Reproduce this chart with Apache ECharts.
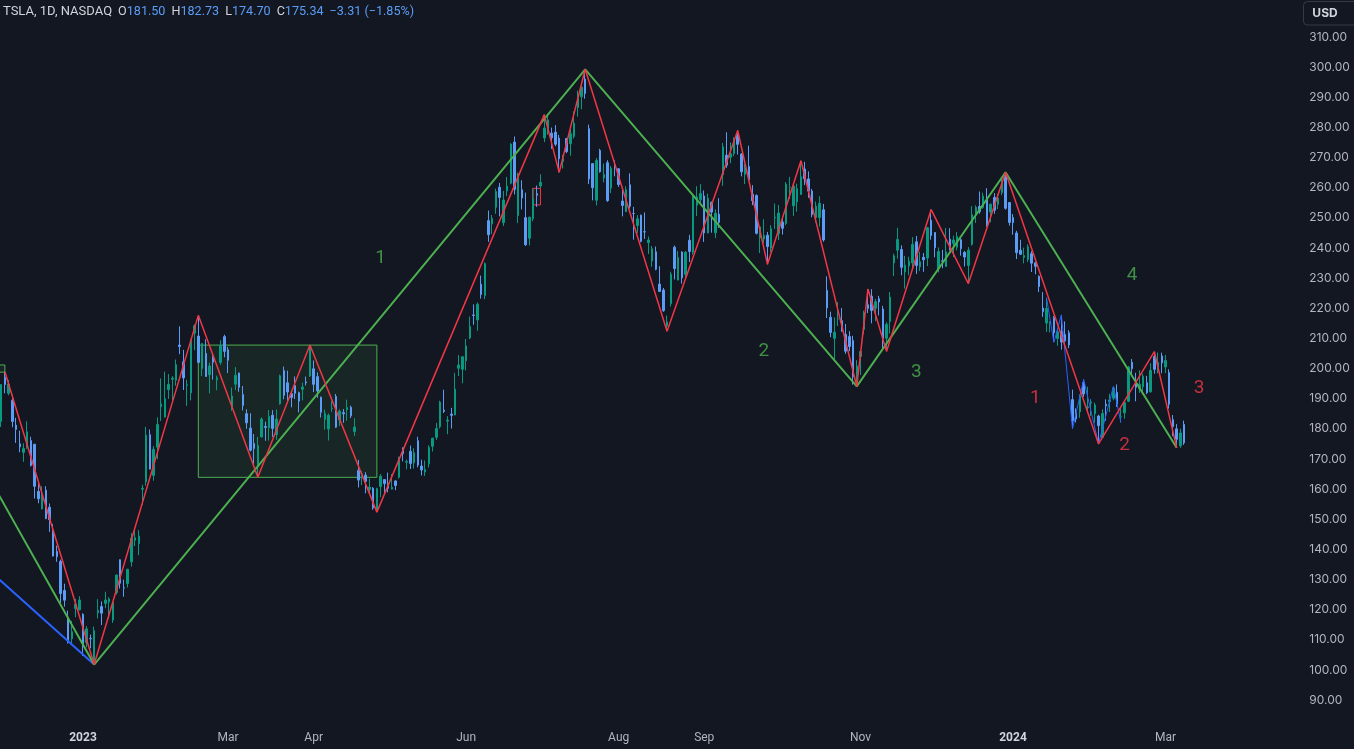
<!DOCTYPE html>
<html>
<head>
<meta charset="utf-8">
<script src="https://cdn.jsdelivr.net/npm/echarts@6/dist/echarts.min.js"></script>
<style>
html,body{margin:0;padding:0;background:#131722;}
#chart{width:1354px;height:749px;}
</style>
</head>
<body>
<div id="chart"></div>
<script>
// ---- daily OHLC rows: [date, open, high, low, close] ----
const nov2022 = [['2022-11-29',184.99,186.38,178.75,180.83],['2022-11-30',182.43,194.76,180.63,194.70]];
const dec2022 = [
['2022-12-01',197.08,198.92,191.80,194.70],['2022-12-02',191.78,196.25,191.11,194.86],
['2022-12-05',189.44,191.27,180.55,182.45],['2022-12-06',181.22,183.65,175.33,179.82],
['2022-12-07',175.03,179.38,172.22,174.04],['2022-12-08',172.20,175.20,169.06,173.44],
['2022-12-09',173.84,182.50,173.36,179.05],['2022-12-12',176.10,177.37,167.52,167.82],
['2022-12-13',174.87,175.05,156.91,160.95],['2022-12-14',159.25,161.62,155.31,156.80],
['2022-12-15',153.44,160.93,153.28,157.67],['2022-12-16',159.64,160.99,150.04,150.23],
['2022-12-19',154.00,155.25,145.82,149.87],['2022-12-20',146.05,148.47,137.66,137.80],
['2022-12-21',139.34,141.26,135.89,137.57],['2022-12-22',136.00,136.63,122.26,125.35],
['2022-12-23',126.37,128.62,121.02,123.15],['2022-12-27',117.50,119.67,108.76,109.10],
['2022-12-28',110.35,116.27,108.24,112.71],['2022-12-29',120.39,123.57,117.50,121.82],
['2022-12-30',119.95,124.48,119.75,123.18]];
const jan2023 = [
['2023-01-03',118.47,118.80,104.64,108.10],['2023-01-04',109.11,114.59,107.52,113.64],
['2023-01-05',110.51,111.75,107.16,110.34],['2023-01-06',103.00,114.39,101.81,113.06],
['2023-01-09',118.96,123.52,117.11,119.77],['2023-01-10',121.07,122.76,114.92,118.85],
['2023-01-11',122.09,125.95,120.51,123.22],['2023-01-12',122.56,124.13,117.00,123.56],
['2023-01-13',116.55,122.63,115.60,122.40],['2023-01-17',125.70,131.70,125.02,131.49],
['2023-01-18',136.56,136.68,127.01,128.78],['2023-01-19',127.26,129.99,124.31,127.17],
['2023-01-20',128.68,133.51,127.35,133.42],['2023-01-23',135.87,145.38,134.27,143.75],
['2023-01-24',143.00,146.50,141.10,143.89],['2023-01-25',141.91,146.41,138.07,144.43],
['2023-01-26',159.97,161.42,154.76,160.27],['2023-01-27',162.43,180.68,161.17,177.90],
['2023-01-30',178.05,179.77,166.50,166.66],['2023-01-31',164.57,174.30,162.78,173.22]];
const feb2023 = [
['2023-02-01',173.89,183.81,169.93,181.41],['2023-02-02',187.33,196.75,182.61,188.27],
['2023-02-03',183.95,199.00,183.69,189.98],['2023-02-06',193.01,198.17,189.92,194.76],
['2023-02-07',196.43,197.50,189.55,196.81],['2023-02-08',196.10,203.00,194.31,201.29],
['2023-02-09',207.78,214.00,204.77,207.32],['2023-02-10',202.23,206.20,192.89,196.89],
['2023-02-13',194.42,196.30,187.61,194.64],['2023-02-14',191.94,209.82,189.44,209.25],
['2023-02-15',211.76,214.66,206.11,214.24],['2023-02-16',210.78,217.65,201.84,202.04],
['2023-02-17',199.99,208.44,197.50,208.31],['2023-02-21',204.99,209.71,197.22,197.37],
['2023-02-22',197.93,201.99,191.78,200.86],['2023-02-23',203.91,205.14,196.33,202.07],
['2023-02-24',196.33,197.67,192.80,196.88],['2023-02-27',202.03,209.42,201.26,207.63],
['2023-02-28',210.59,211.23,203.75,205.71]];
const mar2023 = [
['2023-03-01',206.21,207.20,198.52,202.77],['2023-03-02',186.74,193.75,186.01,190.90],
['2023-03-03',194.80,200.48,192.88,197.79],['2023-03-06',198.54,198.60,192.30,193.81],
['2023-03-07',191.38,194.20,186.10,187.71],['2023-03-08',185.04,186.50,180.00,182.00],
['2023-03-09',180.25,185.18,172.51,172.92],['2023-03-10',175.13,178.29,168.44,173.44],
['2023-03-13',167.46,177.35,163.91,174.48],['2023-03-14',177.31,183.80,177.14,183.26],
['2023-03-15',180.80,182.34,176.03,180.45],['2023-03-16',180.37,186.22,176.10,184.13],
['2023-03-17',184.52,186.22,177.33,180.13],['2023-03-20',178.08,186.44,176.35,183.25],
['2023-03-21',188.28,198.00,188.04,197.58],['2023-03-22',199.30,200.66,189.80,191.15],
['2023-03-23',195.26,199.31,188.65,192.22],['2023-03-24',191.65,192.36,187.15,190.41],
['2023-03-27',194.42,197.39,189.94,191.81],['2023-03-28',192.00,192.35,185.43,189.19],
['2023-03-29',193.13,195.29,189.44,193.88],['2023-03-30',195.58,197.33,194.42,195.28],
['2023-03-31',197.53,207.79,197.20,207.46]];
const apr2023 = [
['2023-04-03',199.91,202.69,192.20,194.77],['2023-04-04',197.32,198.74,190.32,192.58],
['2023-04-05',190.52,190.68,183.76,185.52],['2023-04-06',183.08,186.39,179.74,185.06],
['2023-04-10',179.94,185.10,176.11,184.51],['2023-04-11',186.69,189.19,185.65,186.79],
['2023-04-12',190.74,191.58,180.31,180.54],['2023-04-13',182.96,186.50,180.94,185.90],
['2023-04-14',185.36,186.57,182.01,185.00],['2023-04-17',186.32,189.69,182.69,187.04],
['2023-04-18',187.15,187.69,183.58,184.31],['2023-04-19',179.10,183.50,177.65,180.59],
['2023-04-20',166.17,169.70,160.56,162.99],['2023-04-21',164.80,166.00,161.32,165.08],
['2023-04-24',164.65,165.65,158.61,162.55],['2023-04-25',159.82,163.47,158.75,160.67],
['2023-04-26',160.29,160.67,153.14,153.75],['2023-04-27',152.64,160.48,152.37,160.19],
['2023-04-28',160.90,165.00,157.32,164.31]];
const may2023 = [
['2023-05-01',163.17,163.28,158.83,161.83],['2023-05-02',161.88,165.49,158.93,160.31],
['2023-05-03',160.01,165.00,159.91,160.61],['2023-05-04',162.71,162.95,159.65,161.20],
['2023-05-05',163.97,170.79,163.51,170.06],['2023-05-08',173.72,173.80,169.19,171.79],
['2023-05-09',168.95,169.82,166.56,169.15],['2023-05-10',172.55,174.43,166.68,168.54],
['2023-05-11',168.70,173.57,166.79,172.08],['2023-05-12',176.07,177.38,167.23,167.98],
['2023-05-15',167.66,169.76,164.55,166.35],['2023-05-16',165.65,169.52,164.35,166.52],
['2023-05-17',168.41,174.50,167.19,173.86],['2023-05-18',174.22,177.06,172.45,176.89],
['2023-05-19',177.17,181.95,176.31,180.14],['2023-05-22',180.70,189.32,180.11,188.87],
['2023-05-23',186.20,192.96,185.26,185.77],['2023-05-24',182.56,184.22,178.22,182.90],
['2023-05-25',184.89,186.96,180.10,184.47],['2023-05-26',184.62,198.60,184.53,193.17],
['2023-05-30',200.10,204.48,197.53,201.16],['2023-05-31',199.78,203.95,195.12,203.93]];
const jun2023 = [
['2023-06-01',202.59,209.80,199.37,207.52],['2023-06-02',210.15,217.25,209.75,213.97],
['2023-06-05',217.80,221.29,214.52,217.61],['2023-06-06',216.14,221.91,212.53,221.31],
['2023-06-07',228.00,230.83,223.20,224.57],['2023-06-08',224.22,235.23,223.01,234.86],
['2023-06-09',249.07,252.42,242.02,244.40],['2023-06-12',247.94,250.97,244.59,249.83],
['2023-06-13',253.51,259.68,251.34,258.71],['2023-06-14',260.17,261.57,250.50,256.79],
['2023-06-15',248.40,258.95,247.29,255.90],['2023-06-16',258.92,263.60,257.21,260.54],
['2023-06-20',261.50,274.75,261.12,274.45],['2023-06-21',275.13,276.99,257.78,259.46],
['2023-06-22',250.77,265.00,248.25,264.61],['2023-06-23',259.29,262.45,252.80,256.60],
['2023-06-26',250.07,258.37,240.70,241.05],['2023-06-27',243.24,250.39,240.85,250.21],
['2023-06-28',249.70,259.88,248.89,256.24],['2023-06-29',258.03,260.74,253.61,257.50],
['2023-06-30',260.60,264.45,259.89,261.77]];
const jul2023 = [
['2023-07-03',276.49,284.25,275.11,279.82],['2023-07-05',278.82,283.85,277.60,282.48],
['2023-07-06',278.09,279.97,272.88,276.54],['2023-07-07',278.43,280.78,273.77,274.43],
['2023-07-10',276.47,277.52,265.10,269.61],['2023-07-11',268.65,270.90,266.37,269.79],
['2023-07-12',276.33,276.52,271.46,271.99],['2023-07-13',274.59,279.45,270.60,277.90],
['2023-07-14',277.01,285.30,276.31,281.38],['2023-07-17',286.63,292.23,283.57,290.38],
['2023-07-18',290.15,295.26,286.01,293.34],['2023-07-19',296.04,299.29,289.52,291.26],
['2023-07-20',279.56,280.93,261.20,262.90],['2023-07-21',268.00,268.00,255.80,260.02],
['2023-07-24',255.85,269.85,254.12,269.06],['2023-07-25',272.38,272.90,265.00,265.28],
['2023-07-26',263.25,268.04,261.75,264.35],['2023-07-27',268.31,269.13,255.30,255.71],
['2023-07-28',259.86,267.25,258.23,266.44],['2023-07-31',267.48,269.08,263.78,267.43]];
const aug2023 = [
['2023-08-01',266.26,266.47,260.25,261.07],['2023-08-02',255.57,259.52,250.49,254.11],
['2023-08-03',252.04,260.49,252.00,259.32],['2023-08-04',260.97,264.77,253.11,253.86],
['2023-08-07',251.45,253.65,242.76,251.45],['2023-08-08',247.45,250.92,245.01,249.70],
['2023-08-09',250.87,251.10,241.90,242.19],['2023-08-10',245.40,251.80,243.00,245.34],
['2023-08-11',241.77,243.79,238.02,242.65],['2023-08-14',235.70,240.66,233.75,239.76],
['2023-08-15',238.73,240.50,232.61,232.96],['2023-08-16',228.02,233.97,225.38,225.60],
['2023-08-17',226.06,226.74,218.83,219.22],['2023-08-18',214.12,217.58,212.36,215.49],
['2023-08-21',221.55,232.13,220.58,231.28],['2023-08-22',240.25,240.82,229.55,233.19],
['2023-08-23',229.34,238.98,229.29,236.86],['2023-08-24',238.66,238.92,228.18,230.04],
['2023-08-25',231.31,239.00,230.35,238.59],['2023-08-28',242.58,244.38,235.35,238.82],
['2023-08-29',238.58,257.48,237.77,257.18],['2023-08-30',254.20,260.51,250.59,256.90],
['2023-08-31',255.98,261.18,255.05,258.08]];
const sep2023 = [
['2023-09-01',257.26,259.08,242.01,245.01],['2023-09-05',245.00,258.00,244.86,256.49],
['2023-09-06',255.14,255.39,245.06,251.92],['2023-09-07',245.07,252.81,243.27,251.49],
['2023-09-08',251.22,256.52,246.67,248.50],['2023-09-11',264.27,274.85,260.61,273.58],
['2023-09-12',270.76,278.39,266.60,267.48],['2023-09-13',270.07,274.98,268.10,271.30],
['2023-09-14',271.32,276.71,270.42,276.04],['2023-09-15',277.55,278.98,271.00,274.39],
['2023-09-18',271.16,271.44,263.76,265.28],['2023-09-19',264.35,267.85,261.20,266.50],
['2023-09-20',267.04,273.93,262.46,262.59],['2023-09-21',257.85,260.86,254.21,255.70],
['2023-09-22',257.40,257.79,244.48,244.88],['2023-09-25',243.38,247.10,238.31,246.99],
['2023-09-26',242.98,249.55,241.66,244.12],['2023-09-27',244.26,245.33,234.58,240.50],
['2023-09-28',240.02,247.55,238.65,246.38],['2023-09-29',250.00,254.77,246.35,250.22]];
const oct2023 = [
['2023-10-02',244.81,254.28,242.62,251.60],['2023-10-03',248.61,250.02,244.45,246.53],
['2023-10-04',248.14,261.86,247.60,261.16],['2023-10-05',260.00,263.60,256.25,260.05],
['2023-10-06',253.98,261.65,250.65,260.53],['2023-10-09',255.31,261.36,252.05,259.67],
['2023-10-10',257.75,268.94,257.65,263.62],['2023-10-11',266.20,268.60,260.90,262.99],
['2023-10-12',262.92,265.41,256.63,258.87],['2023-10-13',258.90,259.60,250.22,251.12],
['2023-10-16',250.05,255.40,248.48,253.92],['2023-10-17',250.10,257.18,247.08,254.85],
['2023-10-18',252.70,254.63,242.08,242.68],['2023-10-19',225.95,230.61,216.78,220.11],
['2023-10-20',217.01,218.86,210.42,211.99],['2023-10-23',210.00,216.98,202.51,212.08],
['2023-10-24',216.50,222.05,214.11,216.52],['2023-10-25',215.88,220.10,212.20,212.42],
['2023-10-26',211.32,214.80,204.88,205.76],['2023-10-27',210.60,212.41,205.77,207.30],
['2023-10-30',209.28,210.88,194.67,197.36],['2023-10-31',196.12,202.80,194.07,200.84]];
const nov2023 = [
['2023-11-01',204.04,205.99,197.85,205.66],['2023-11-02',212.97,219.20,211.45,218.51],
['2023-11-03',221.15,226.37,218.40,219.96],['2023-11-06',223.98,226.32,215.00,219.27],
['2023-11-07',219.98,223.12,215.72,222.18],['2023-11-08',223.15,224.15,217.64,222.11],
['2023-11-09',219.75,220.80,206.68,209.98],['2023-11-10',210.03,215.38,205.69,214.65],
['2023-11-13',215.60,225.40,211.61,223.71],['2023-11-14',235.03,238.14,230.72,237.41],
['2023-11-15',239.29,246.70,236.45,242.84],['2023-11-16',239.49,240.88,230.96,233.59],
['2023-11-17',232.00,237.39,226.54,234.30],['2023-11-20',234.04,237.10,231.02,235.60],
['2023-11-21',235.04,243.62,233.34,241.20],['2023-11-22',242.04,244.01,231.40,234.21],
['2023-11-24',233.75,238.75,232.33,235.45],['2023-11-27',236.89,238.33,232.10,236.08],
['2023-11-28',236.68,247.00,234.01,246.72],['2023-11-29',249.21,252.75,242.76,244.14],
['2023-11-30',245.14,245.22,236.91,240.08]];
const dec2023 = [
['2023-12-01',233.14,240.19,231.90,238.83],['2023-12-04',235.75,239.37,233.29,235.58],
['2023-12-05',233.87,246.66,233.70,238.72],['2023-12-06',242.92,246.57,239.17,239.37],
['2023-12-07',241.55,244.08,236.98,242.64],['2023-12-08',240.27,245.27,239.27,243.84],
['2023-12-11',242.74,243.44,237.45,239.74],['2023-12-12',238.55,238.99,233.87,237.01],
['2023-12-13',234.19,240.30,228.20,239.29],['2023-12-14',241.22,253.88,240.79,251.05],
['2023-12-15',251.21,254.13,248.30,253.50],['2023-12-18',253.78,258.74,251.36,252.08],
['2023-12-19',253.48,258.34,253.01,257.22],['2023-12-20',256.41,259.84,247.00,247.14],
['2023-12-21',251.90,254.80,248.55,254.50],['2023-12-22',256.76,258.22,251.37,252.54],
['2023-12-26',254.49,257.97,252.91,256.61],['2023-12-27',258.35,263.34,257.52,261.44],
['2023-12-28',263.66,265.13,252.71,253.18],['2023-12-29',255.10,255.19,247.43,248.48]];
const jan2024 = [
['2024-01-02',250.08,251.25,244.41,248.42],['2024-01-03',244.98,245.68,236.32,238.45],
['2024-01-04',239.25,242.70,237.73,237.93],['2024-01-05',236.86,240.12,234.90,237.49],
['2024-01-08',236.14,241.25,235.30,240.45],['2024-01-09',238.11,238.96,232.04,234.96],
['2024-01-10',235.10,235.50,231.29,233.94],['2024-01-11',230.57,230.93,225.37,227.22],
['2024-01-12',220.08,225.34,217.15,218.89],['2024-01-16',215.10,223.49,212.18,219.91],
['2024-01-17',214.86,215.67,212.01,215.55],['2024-01-18',216.88,217.45,208.74,211.88],
['2024-01-19',209.99,213.19,207.56,212.19],['2024-01-22',212.26,217.80,206.27,208.80],
['2024-01-23',211.30,215.65,207.75,209.14],['2024-01-24',211.88,212.73,206.77,207.83],
['2024-01-25',189.70,193.00,180.06,182.63],['2024-01-26',185.50,186.78,182.10,183.25],
['2024-01-29',185.63,191.48,183.67,190.93],['2024-01-30',195.33,196.36,190.61,191.59],
['2024-01-31',187.00,193.97,185.85,187.29]];
const feb2024 = [
['2024-02-01',188.50,189.88,184.28,188.86],['2024-02-02',185.04,188.69,182.00,187.91],
['2024-02-05',184.26,184.68,175.01,181.06],['2024-02-06',177.21,186.49,177.11,185.10],
['2024-02-07',188.18,189.79,182.68,187.58],['2024-02-08',189.00,191.62,185.58,189.56],
['2024-02-09',190.18,194.12,189.48,193.57],['2024-02-12',192.11,194.73,187.28,188.13],
['2024-02-13',183.99,187.26,182.11,184.02],['2024-02-14',185.30,188.89,183.35,188.71],
['2024-02-15',189.16,200.88,188.86,200.45],['2024-02-16',202.06,203.17,197.40,199.95],
['2024-02-20',196.13,198.60,189.13,193.76],['2024-02-21',193.36,199.44,191.95,194.77],
['2024-02-22',194.00,198.32,191.36,197.41],['2024-02-23',195.31,197.57,191.50,191.97],
['2024-02-26',192.29,201.78,192.00,199.40],['2024-02-27',204.04,205.60,198.26,199.73],
['2024-02-28',200.42,205.30,198.44,202.04],['2024-02-29',204.18,205.28,198.45,201.88]];
const mar2024 = [
['2024-03-01',200.52,204.52,198.50,202.64],['2024-03-04',198.73,199.75,186.72,188.14],
['2024-03-05',183.05,184.59,177.57,180.74],['2024-03-06',179.99,181.58,173.70,176.54],
['2024-03-07',174.35,180.04,173.70,178.65],['2024-03-08',181.50,182.73,174.70,175.34]];

// ---- drawings (date, price) ----
const greenWave = [['2022-11-29',158.9],['2023-01-06',101.81],['2023-07-19',299.29],['2023-10-31',194.07],['2023-12-28',265.13],['2024-03-06',173.70]];
const redWave = [['2022-12-01',198.92],['2023-01-06',101.81],['2023-02-16',217.65],['2023-03-13',163.91],['2023-03-31',207.79],['2023-04-27',152.37],['2023-07-03',284.25],['2023-07-10',265.10],['2023-07-19',299.29],['2023-08-18',212.36],['2023-09-15',278.98],['2023-09-27',234.58],['2023-10-10',268.94],['2023-10-31',194.07],['2023-11-03',226.37],['2023-11-10',205.69],['2023-11-29',252.75],['2023-12-13',228.20],['2023-12-28',265.13],['2024-02-05',175.01],['2024-02-27',205.60],['2024-03-06',173.70]];
const blueWaveLeft = [['2022-11-29',130.6],['2023-01-06',101.81]];
const blueWaveSmall = [['2024-01-16',223.49],['2024-01-18',208.74],['2024-01-22',217.80],['2024-01-25',180.06],['2024-01-30',196.36],['2024-02-05',175.01],['2024-02-09',194.12],['2024-02-13',182.11]];
const greenBox = [['2023-02-16',207.79],['2023-04-27',163.91]];
const greenBoxSmall = [['2022-11-29',201.2],['2022-12-01',198.8]];
const redBoxSmall = [['2023-06-28',259.8],['2023-06-30',254.3]];
const greenLabels = [['2023-04-28',236.6,'1'],['2023-09-26',205.6,'2'],['2023-11-22',198.9,'3'],['2024-02-16',231.1,'4']];
const redLabels = [['2024-01-10',190.0,'1'],['2024-02-14',174.7,'2'],['2024-03-14',193.6,'3']];
const timeLabels = [['2023-01-03','2023',true],['2023-03-01','Mar'],['2023-04-03','Apr'],['2023-06-01','Jun'],['2023-08-01','Aug'],['2023-09-01','Sep'],['2023-11-01','Nov'],['2024-01-02','2024',true],['2024-03-01','Mar']];
const priceTicks = {min:80, max:320, step:10};

// ---- build ----
const rows = [].concat(nov2022,dec2022,jan2023,feb2023,mar2023,apr2023,may2023,jun2023,jul2023,aug2023,sep2023,oct2023,nov2023,dec2023,jan2024,feb2024,mar2024);
const cats = rows.map(r=>r[0]);
// empty right margin: future trading-day slots
let d = new Date(Date.UTC(2024,2,8));
while (cats.length < 351) {
  d = new Date(d.getTime()+86400000);
  const wd = d.getUTCDay();
  if (wd===0||wd===6) continue;
  cats.push(d.toISOString().slice(0,10));
}
const candles = rows.map(r=>[r[1],r[4],r[3],r[2]]);
const labelMap = {};
timeLabels.forEach(t=>{labelMap[t[0]] = t[2] ? '{y|'+t[1]+'}' : '{m|'+t[1]+'}';});

const last = rows[rows.length-1], prev = rows[rows.length-2];
const chg = last[4]-prev[4], pct = chg/prev[4]*100;
const fmt = v => (v<0?'\u2212':'')+Math.abs(v).toFixed(2);
const sp = '\u2002';
const hf = 12.6;

const barW = 3.72;
const chart = echarts.init(document.getElementById('chart'));
chart.setOption({
  backgroundColor:'#131722',
  animation:false,
  grid:{left:-0.7-barW, width:cats.length*barW, top:6.86, height:723.4, outerBoundsMode:'none', containLabel:false},
  xAxis:{
    type:'category', data:cats, boundaryGap:true,
    axisLine:{show:false}, axisTick:{show:false}, splitLine:{show:false},
    axisLabel:{
      interval:(i,v)=>labelMap[v]!==undefined,
      formatter:v=>labelMap[v]||'',
      margin:2,
      rich:{
        y:{color:'#d1d4dc', fontWeight:'bold', fontSize:12, fontFamily:'Roboto'},
        m:{color:'#b2b5be', fontSize:12, fontFamily:'Roboto'}
      }
    }
  },
  yAxis:{
    type:'value', position:'right', min:priceTicks.min, max:priceTicks.max, interval:priceTicks.step,
    axisLine:{show:false}, axisTick:{show:false}, splitLine:{show:false},
    axisLabel:{
      margin:8, color:'#b2b5be', fontSize:12, fontFamily:'Inter',
      formatter:v=>(v<90||v>310)?'':v.toFixed(2)
    }
  },
  series:[
    {type:'candlestick', data:candles, barWidth:2, z:2,
     itemStyle:{color:'#089981', color0:'#5b9cf6', borderColor:'#089981', borderColor0:'#5b9cf6', borderWidth:1}},
    {type:'line', data:greenWave, showSymbol:false, symbol:'none', z:4, silent:true,
     lineStyle:{color:'#4caf50', width:2},
     markArea:{silent:true, data:[
       [{coord:greenBox[0], itemStyle:{color:'rgba(76,175,80,0.1)', borderColor:'#4caf50', borderWidth:1}},{coord:greenBox[1]}],
       [{coord:greenBoxSmall[0], itemStyle:{color:'rgba(76,175,80,0.1)', borderColor:'#4caf50', borderWidth:1}},{coord:greenBoxSmall[1]}]
     ]}},
    {type:'line', data:redWave, showSymbol:false, symbol:'none', z:5, silent:true,
     lineStyle:{color:'#f23645', width:1.5},
     markArea:{silent:true, data:[
       [{coord:redBoxSmall[0], itemStyle:{color:'rgba(242,54,69,0.05)', borderColor:'#f23645', borderWidth:1}},{coord:redBoxSmall[1]}]
     ]}},
    {type:'line', data:blueWaveLeft, showSymbol:false, symbol:'none', z:3, silent:true,
     lineStyle:{color:'#2962ff', width:2}},
    {type:'line', data:blueWaveSmall, showSymbol:false, symbol:'none', z:3, silent:true,
     lineStyle:{color:'#2962ff', width:1}},
    {type:'scatter', data:greenLabels, symbolSize:0, z:6, silent:true,
     label:{show:true, position:'inside', formatter:p=>p.data[2], color:'#4caf50', fontSize:19, fontFamily:'Roboto'}},
    {type:'scatter', data:redLabels, symbolSize:0, z:6, silent:true,
     label:{show:true, position:'inside', formatter:p=>p.data[2], color:'#f23645', fontSize:19, fontFamily:'Roboto'}}
  ],
  graphic:[
    {type:'text', left:3, top:5, z:10, style:{
      text:'{t|TSLA, 1D, NASDAQ}'+sp+'{k|O}{v|'+last[1].toFixed(2)+'}'+sp+'{k|H}{v|'+last[2].toFixed(2)+'}'+sp+'{k|L}{v|'+last[3].toFixed(2)+'}'+sp+'{k|C}{v|'+last[4].toFixed(2)+'}'+sp+'{v|'+fmt(chg)+' ('+fmt(pct)+'%)}',
      rich:{
        t:{fill:'#d1d4dc', fontSize:13, fontFamily:'Roboto'},
        k:{fill:'#d1d4dc', fontSize:hf, fontFamily:'Roboto'},
        v:{fill:'#5b9cf6', fontSize:hf, fontFamily:'Roboto'}
      }}},
    {type:'rect', z:10, shape:{x:1303.5, y:1.5, width:60, height:23.5, r:4},
     style:{fill:'#131722', stroke:'#363a45', lineWidth:1}},
    {type:'text', z:11, x:1325, y:13, style:{text:'USD', fill:'#d1d4dc', fontSize:12, fontWeight:'bold', fontFamily:'Inter', textAlign:'center', textVerticalAlign:'middle'}}
  ]
});
</script>
</body>
</html>
